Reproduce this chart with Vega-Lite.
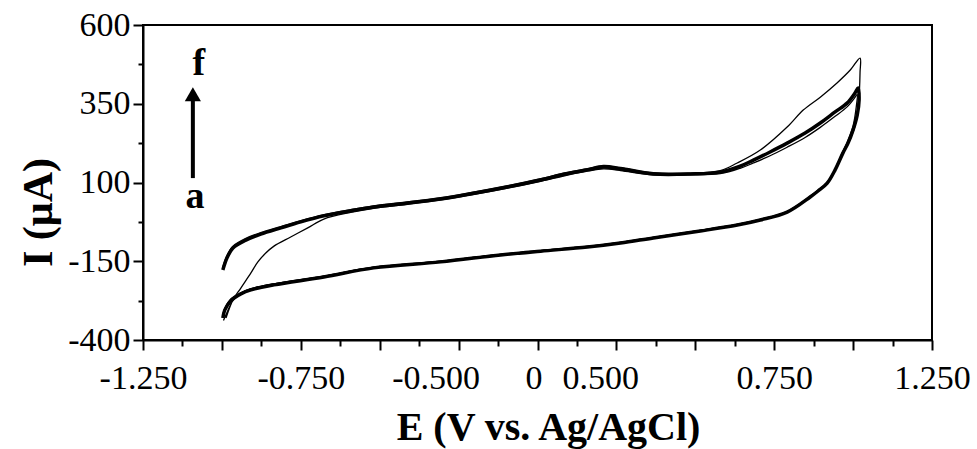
{
  "$schema": "https://vega.github.io/schema/vega-lite/v6.json",
  "width": 789,
  "height": 315,
  "autosize": {"type": "none"},
  "padding": {"left": 143, "top": 25, "right": 45, "bottom": 109},
  "background": "white",
  "config": {
    "view": {"stroke": "black", "strokeWidth": 2},
    "axis": {
      "domainColor": "black", "domainWidth": 2, "tickColor": "black", "tickWidth": 2,
      "labelColor": "black", "titleColor": "black",
      "labelFont": "Liberation Serif", "titleFont": "Liberation Serif", "grid": false
    }
  },
  "datasets": {
    "cv": [
      {"cycle": "b–e", "step": 1, "E": -0.997, "I": -178},
      {"cycle": "b–e", "step": 2, "E": -0.984, "I": -140},
      {"cycle": "b–e", "step": 3, "E": -0.965, "I": -108},
      {"cycle": "b–e", "step": 4, "E": -0.924, "I": -83},
      {"cycle": "b–e", "step": 5, "E": -0.877, "I": -64},
      {"cycle": "b–e", "step": 6, "E": -0.813, "I": -44},
      {"cycle": "b–e", "step": 7, "E": -0.75, "I": -25},
      {"cycle": "b–e", "step": 8, "E": -0.677, "I": -6},
      {"cycle": "b–e", "step": 9, "E": -0.592, "I": 10},
      {"cycle": "b–e", "step": 10, "E": -0.519, "I": 22},
      {"cycle": "b–e", "step": 11, "E": -0.434, "I": 32},
      {"cycle": "b–e", "step": 12, "E": -0.307, "I": 48},
      {"cycle": "b–e", "step": 13, "E": -0.212, "I": 64},
      {"cycle": "b–e", "step": 14, "E": -0.095, "I": 86},
      {"cycle": "b–e", "step": 15, "E": 0.01, "I": 108},
      {"cycle": "b–e", "step": 16, "E": 0.089, "I": 127},
      {"cycle": "b–e", "step": 17, "E": 0.158, "I": 140},
      {"cycle": "b–e", "step": 18, "E": 0.209, "I": 149},
      {"cycle": "b–e", "step": 19, "E": 0.263, "I": 143},
      {"cycle": "b–e", "step": 20, "E": 0.367, "I": 127},
      {"cycle": "b–e", "step": 21, "E": 0.484, "I": 127},
      {"cycle": "b–e", "step": 22, "E": 0.579, "I": 133},
      {"cycle": "b–e", "step": 23, "E": 0.642, "I": 152},
      {"cycle": "b–e", "step": 24, "E": 0.684, "I": 171},
      {"cycle": "b–e", "step": 25, "E": 0.737, "I": 197},
      {"cycle": "b–e", "step": 26, "E": 0.791, "I": 225},
      {"cycle": "b–e", "step": 27, "E": 0.848, "I": 257},
      {"cycle": "b–e", "step": 28, "E": 0.896, "I": 289},
      {"cycle": "b–e", "step": 29, "E": 0.943, "I": 324},
      {"cycle": "b–e", "step": 30, "E": 0.981, "I": 352},
      {"cycle": "b–e", "step": 31, "E": 1.006, "I": 384},
      {"cycle": "b–e", "step": 32, "E": 1.016, "I": 400},
      {"cycle": "b–e", "step": 33, "E": 1.019, "I": 362},
      {"cycle": "b–e", "step": 34, "E": 1.013, "I": 314},
      {"cycle": "b–e", "step": 35, "E": 1.0, "I": 267},
      {"cycle": "b–e", "step": 36, "E": 0.984, "I": 225},
      {"cycle": "b–e", "step": 37, "E": 0.968, "I": 194},
      {"cycle": "b–e", "step": 38, "E": 0.943, "I": 140},
      {"cycle": "b–e", "step": 39, "E": 0.918, "I": 98},
      {"cycle": "b–e", "step": 40, "E": 0.889, "I": 73},
      {"cycle": "b–e", "step": 41, "E": 0.864, "I": 54},
      {"cycle": "b–e", "step": 42, "E": 0.791, "I": 6},
      {"cycle": "b–e", "step": 43, "E": 0.706, "I": -19},
      {"cycle": "b–e", "step": 44, "E": 0.633, "I": -35},
      {"cycle": "b–e", "step": 45, "E": 0.516, "I": -54},
      {"cycle": "b–e", "step": 46, "E": 0.367, "I": -76},
      {"cycle": "b–e", "step": 47, "E": 0.263, "I": -92},
      {"cycle": "b–e", "step": 48, "E": 0.158, "I": -105},
      {"cycle": "b–e", "step": 49, "E": 0.01, "I": -118},
      {"cycle": "b–e", "step": 50, "E": -0.117, "I": -130},
      {"cycle": "b–e", "step": 51, "E": -0.307, "I": -152},
      {"cycle": "b–e", "step": 52, "E": -0.519, "I": -171},
      {"cycle": "b–e", "step": 53, "E": -0.677, "I": -200},
      {"cycle": "b–e", "step": 54, "E": -0.835, "I": -225},
      {"cycle": "b–e", "step": 55, "E": -0.908, "I": -241},
      {"cycle": "b–e", "step": 56, "E": -0.94, "I": -254},
      {"cycle": "b–e", "step": 57, "E": -0.972, "I": -276},
      {"cycle": "b–e", "step": 58, "E": -0.991, "I": -305},
      {"cycle": "b–e", "step": 59, "E": -0.997, "I": -330},

      {"cycle": "a", "step": 1, "E": -0.987, "I": -330},
      {"cycle": "a", "step": 2, "E": -0.965, "I": -273},
      {"cycle": "a", "step": 3, "E": -0.94, "I": -235},
      {"cycle": "a", "step": 4, "E": -0.908, "I": -187},
      {"cycle": "a", "step": 5, "E": -0.886, "I": -152},
      {"cycle": "a", "step": 6, "E": -0.861, "I": -124},
      {"cycle": "a", "step": 7, "E": -0.835, "I": -102},
      {"cycle": "a", "step": 8, "E": -0.782, "I": -73},
      {"cycle": "a", "step": 9, "E": -0.728, "I": -44},
      {"cycle": "a", "step": 10, "E": -0.677, "I": -16},
      {"cycle": "a", "step": 11, "E": -0.592, "I": 5},
      {"cycle": "a", "step": 12, "E": -0.519, "I": 18},
      {"cycle": "a", "step": 13, "E": -0.434, "I": 28},
      {"cycle": "a", "step": 14, "E": -0.307, "I": 44},
      {"cycle": "a", "step": 15, "E": -0.212, "I": 60},
      {"cycle": "a", "step": 16, "E": -0.095, "I": 82},
      {"cycle": "a", "step": 17, "E": 0.01, "I": 104},
      {"cycle": "a", "step": 18, "E": 0.089, "I": 122},
      {"cycle": "a", "step": 19, "E": 0.158, "I": 136},
      {"cycle": "a", "step": 20, "E": 0.209, "I": 143},
      {"cycle": "a", "step": 21, "E": 0.263, "I": 138},
      {"cycle": "a", "step": 22, "E": 0.367, "I": 124},
      {"cycle": "a", "step": 23, "E": 0.484, "I": 124},
      {"cycle": "a", "step": 24, "E": 0.579, "I": 128},
      {"cycle": "a", "step": 25, "E": 0.642, "I": 145},
      {"cycle": "a", "step": 26, "E": 0.684, "I": 162},
      {"cycle": "a", "step": 27, "E": 0.737, "I": 185},
      {"cycle": "a", "step": 28, "E": 0.791, "I": 212},
      {"cycle": "a", "step": 29, "E": 0.848, "I": 243},
      {"cycle": "a", "step": 30, "E": 0.896, "I": 275},
      {"cycle": "a", "step": 31, "E": 0.943, "I": 310},
      {"cycle": "a", "step": 32, "E": 0.981, "I": 340},
      {"cycle": "a", "step": 33, "E": 1.006, "I": 370},
      {"cycle": "a", "step": 34, "E": 1.013, "I": 380},
      {"cycle": "a", "step": 35, "E": 1.01, "I": 340},
      {"cycle": "a", "step": 36, "E": 1.0, "I": 280},
      {"cycle": "a", "step": 37, "E": 0.984, "I": 235},
      {"cycle": "a", "step": 38, "E": 0.966, "I": 195},
      {"cycle": "a", "step": 39, "E": 0.943, "I": 143},
      {"cycle": "a", "step": 40, "E": 0.918, "I": 100},
      {"cycle": "a", "step": 41, "E": 0.889, "I": 75},
      {"cycle": "a", "step": 42, "E": 0.864, "I": 56},
      {"cycle": "a", "step": 43, "E": 0.791, "I": 8},
      {"cycle": "a", "step": 44, "E": 0.706, "I": -17},
      {"cycle": "a", "step": 45, "E": 0.633, "I": -33},
      {"cycle": "a", "step": 46, "E": 0.516, "I": -52},
      {"cycle": "a", "step": 47, "E": 0.367, "I": -74},
      {"cycle": "a", "step": 48, "E": 0.263, "I": -90},
      {"cycle": "a", "step": 49, "E": 0.158, "I": -103},
      {"cycle": "a", "step": 50, "E": 0.01, "I": -116},
      {"cycle": "a", "step": 51, "E": -0.117, "I": -128},
      {"cycle": "a", "step": 52, "E": -0.307, "I": -150},
      {"cycle": "a", "step": 53, "E": -0.519, "I": -169},
      {"cycle": "a", "step": 54, "E": -0.677, "I": -197},
      {"cycle": "a", "step": 55, "E": -0.835, "I": -222},
      {"cycle": "a", "step": 56, "E": -0.908, "I": -238},
      {"cycle": "a", "step": 57, "E": -0.94, "I": -250},
      {"cycle": "a", "step": 58, "E": -0.965, "I": -275},
      {"cycle": "a", "step": 59, "E": -0.985, "I": -315},
      {"cycle": "a", "step": 60, "E": -0.995, "I": -338},

      {"cycle": "f", "step": 1, "E": -0.997, "I": -168},
      {"cycle": "f", "step": 2, "E": -0.984, "I": -132},
      {"cycle": "f", "step": 3, "E": -0.965, "I": -102},
      {"cycle": "f", "step": 4, "E": -0.924, "I": -77},
      {"cycle": "f", "step": 5, "E": -0.877, "I": -59},
      {"cycle": "f", "step": 6, "E": -0.813, "I": -40},
      {"cycle": "f", "step": 7, "E": -0.75, "I": -21},
      {"cycle": "f", "step": 8, "E": -0.677, "I": -2},
      {"cycle": "f", "step": 9, "E": -0.592, "I": 14},
      {"cycle": "f", "step": 10, "E": -0.519, "I": 26},
      {"cycle": "f", "step": 11, "E": -0.434, "I": 36},
      {"cycle": "f", "step": 12, "E": -0.307, "I": 52},
      {"cycle": "f", "step": 13, "E": -0.212, "I": 68},
      {"cycle": "f", "step": 14, "E": -0.095, "I": 90},
      {"cycle": "f", "step": 15, "E": 0.01, "I": 112},
      {"cycle": "f", "step": 16, "E": 0.089, "I": 131},
      {"cycle": "f", "step": 17, "E": 0.158, "I": 144},
      {"cycle": "f", "step": 18, "E": 0.209, "I": 154},
      {"cycle": "f", "step": 19, "E": 0.263, "I": 148},
      {"cycle": "f", "step": 20, "E": 0.367, "I": 131},
      {"cycle": "f", "step": 21, "E": 0.484, "I": 130},
      {"cycle": "f", "step": 22, "E": 0.579, "I": 138},
      {"cycle": "f", "step": 23, "E": 0.633, "I": 162},
      {"cycle": "f", "step": 24, "E": 0.706, "I": 203},
      {"cycle": "f", "step": 25, "E": 0.791, "I": 276},
      {"cycle": "f", "step": 26, "E": 0.842, "I": 330},
      {"cycle": "f", "step": 27, "E": 0.896, "I": 371},
      {"cycle": "f", "step": 28, "E": 0.949, "I": 416},
      {"cycle": "f", "step": 29, "E": 0.991, "I": 457},
      {"cycle": "f", "step": 30, "E": 1.022, "I": 495},
      {"cycle": "f", "step": 31, "E": 1.022, "I": 450},
      {"cycle": "f", "step": 32, "E": 1.02, "I": 390},
      {"cycle": "f", "step": 33, "E": 1.016, "I": 330},
      {"cycle": "f", "step": 34, "E": 1.004, "I": 272},
      {"cycle": "f", "step": 35, "E": 0.986, "I": 228},
      {"cycle": "f", "step": 36, "E": 0.969, "I": 196},
      {"cycle": "f", "step": 37, "E": 0.944, "I": 142},
      {"cycle": "f", "step": 38, "E": 0.918, "I": 100},
      {"cycle": "f", "step": 39, "E": 0.889, "I": 75},
      {"cycle": "f", "step": 40, "E": 0.864, "I": 56},
      {"cycle": "f", "step": 41, "E": 0.791, "I": 8},
      {"cycle": "f", "step": 42, "E": 0.706, "I": -17},
      {"cycle": "f", "step": 43, "E": 0.633, "I": -33},
      {"cycle": "f", "step": 44, "E": 0.516, "I": -52},
      {"cycle": "f", "step": 45, "E": 0.367, "I": -74},
      {"cycle": "f", "step": 46, "E": 0.263, "I": -90},
      {"cycle": "f", "step": 47, "E": 0.158, "I": -103},
      {"cycle": "f", "step": 48, "E": 0.01, "I": -116},
      {"cycle": "f", "step": 49, "E": -0.117, "I": -128},
      {"cycle": "f", "step": 50, "E": -0.307, "I": -150},
      {"cycle": "f", "step": 51, "E": -0.519, "I": -169},
      {"cycle": "f", "step": 52, "E": -0.677, "I": -197},
      {"cycle": "f", "step": 53, "E": -0.835, "I": -222},
      {"cycle": "f", "step": 54, "E": -0.908, "I": -237},
      {"cycle": "f", "step": 55, "E": -0.94, "I": -250},
      {"cycle": "f", "step": 56, "E": -0.972, "I": -270},
      {"cycle": "f", "step": 57, "E": -0.99, "I": -298},
      {"cycle": "f", "step": 58, "E": -0.997, "I": -322}
    ],
    "notes": [
      {"label": "f", "E": -1.073, "I": 441},
      {"label": "a", "E": -1.085, "I": 19}
    ],
    "arrow": [
      {"E": -1.092, "I": 114, "I2": 365, "head": 380}
    ]
  },
  "resolve": {"axis": {"x": "independent", "y": "independent"}},
  "layer": [
    {
      "data": {"name": "cv"},
      "transform": [{"filter": "datum.cycle === 'b–e'"}],
      "mark": {"type": "line", "color": "black", "strokeWidth": 3.5, "strokeJoin": "round", "interpolate": "catmull-rom"},
      "encoding": {
        "x": {"field": "E", "type": "quantitative",
          "scale": {"domain": [-1.25, 1.25], "nice": false, "zero": false},
          "axis": {"orient": "bottom", "values": [-1.25, -1, -0.75, -0.5, -0.25, 0, 0.25, 0.5, 0.75, 1, 1.25],
            "labels": false, "tickSize": 10, "title": null}},
        "y": {"field": "I", "type": "quantitative",
          "scale": {"domain": [-400, 600], "nice": false, "zero": false},
          "axis": {"orient": "left", "values": [-400, -150, 100, 350, 600], "tickSize": 10,
            "labelFontSize": 34, "labelPadding": 3, "labelFlush": false, "labelOverlap": false, "labelBound": false,
            "labelExpr": "datum.value < 0 ? '-' + format(-datum.value, 'd') : format(datum.value, 'd')",
            "title": "I (μA)", "titleFontSize": 42, "titleFontWeight": "bold", "titleAngle": -90,
            "titleX": -105, "titleY": 187, "titleBaseline": "middle", "titleAlign": "center"}},
        "order": {"field": "step", "type": "quantitative"}
      }
    },
    {
      "data": {"name": "cv"},
      "transform": [{"filter": "datum.cycle === 'a'"}],
      "mark": {"type": "line", "color": "black", "strokeWidth": 1.3, "interpolate": "catmull-rom"},
      "encoding": {
        "x": {"field": "E", "type": "quantitative",
          "axis": {"orient": "bottom", "values": [-1.125, -0.875, -0.625, -0.375, -0.125, 0.125, 0.375, 0.625, 0.875, 1.125],
            "labels": false, "domain": false, "tickSize": 6, "title": null}},
        "y": {"field": "I", "type": "quantitative",
          "axis": {"orient": "left", "values": [-275, -25, 225, 475], "labels": false, "domain": false, "tickSize": 5, "title": null}},
        "order": {"field": "step", "type": "quantitative"}
      }
    },
    {
      "data": {"name": "cv"},
      "transform": [{"filter": "datum.cycle === 'f'"}],
      "mark": {"type": "line", "color": "black", "strokeWidth": 1.3, "interpolate": "catmull-rom"},
      "encoding": {
        "x": {"field": "E", "type": "quantitative",
          "axis": {"orient": "bottom", "values": [-1.25, -0.75, -0.323, -0.013, 0.199, 0.75, 1.25],
            "ticks": false, "domain": false, "labelFontSize": 34, "labelPadding": 21,
            "labelFlush": false, "labelOverlap": false, "labelBound": false,
            "labelExpr": "datum.value < -1 ? '-1.250' : datum.value < -0.6 ? '-0.750' : datum.value < -0.2 ? '-0.500' : datum.value < 0.1 ? '0' : datum.value < 0.5 ? '0.500' : datum.value < 1 ? '0.750' : '1.250'",
            "title": "E (V vs. Ag/AgCl)", "titleFontSize": 40, "titleFontWeight": "bold",
            "titleX": 405, "titleY": 99, "titleBaseline": "alphabetic", "titleAlign": "center"}},
        "y": {"field": "I", "type": "quantitative", "axis": null},
        "order": {"field": "step", "type": "quantitative"}
      }
    },
    {
      "data": {"name": "arrow"},
      "mark": {"type": "rule", "color": "black", "strokeWidth": 4},
      "encoding": {
        "x": {"field": "E", "type": "quantitative", "axis": null},
        "y": {"field": "I", "type": "quantitative", "axis": null},
        "y2": {"field": "I2"}
      }
    },
    {
      "data": {"name": "arrow"},
      "mark": {"type": "point", "shape": "triangle-up", "filled": true, "color": "black", "opacity": 1, "size": 260},
      "encoding": {
        "x": {"field": "E", "type": "quantitative", "axis": null},
        "y": {"field": "head", "type": "quantitative", "axis": null}
      }
    },
    {
      "data": {"name": "notes"},
      "mark": {"type": "text", "font": "Liberation Serif", "fontWeight": "bold", "fontSize": 38, "color": "black", "align": "center", "baseline": "alphabetic"},
      "encoding": {
        "x": {"field": "E", "type": "quantitative", "axis": null},
        "y": {"field": "I", "type": "quantitative", "axis": null},
        "text": {"field": "label"}
      }
    }
  ]
}
